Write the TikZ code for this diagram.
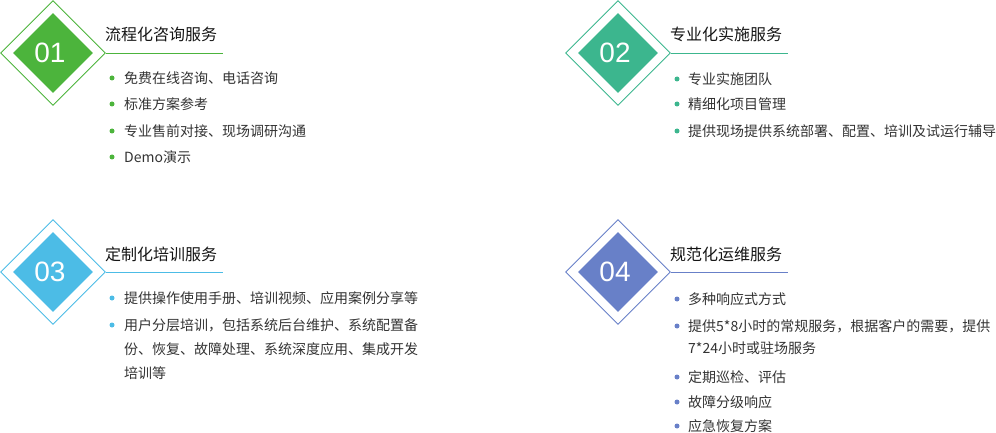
\documentclass[tikz,border=0pt]{standalone}
\usepackage{fontspec}
\setmainfont{Liberation Sans}
\newfontfamily\cjk{Noto Sans CJK SC}
\usetikzlibrary{shapes.geometric,positioning}
\definecolor{GreenA}{RGB}{76,180,60}
\definecolor{TealB}{RGB}{60,182,142}
\definecolor{BlueC}{RGB}{76,188,230}
\definecolor{BlueD}{RGB}{104,128,200}
\definecolor{TextGray}{RGB}{51,51,51}
\definecolor{TitleBlack}{RGB}{20,20,20}
\tikzset{
  outerdia/.style={diamond,draw=#1,line width=0.9pt,minimum size=105pt,inner sep=0pt},
  innerdia/.style={diamond,fill=#1,minimum size=80pt,inner sep=0pt},
  numtext/.style={text=white,inner sep=0pt,font=\fontsize{28pt}{28pt}\selectfont},
  titletext/.style={anchor=west,inner sep=0pt,text=TitleBlack,font=\cjk\fontsize{16pt}{16pt}\selectfont},
  itemtext/.style={anchor=west,inner sep=0pt,text=TextGray,align=left,font=\cjk\fontsize{14pt}{24pt}\selectfont},
  itemdot/.style={circle,fill=#1,inner sep=0pt,minimum size=5pt},
  underline/.style={draw=#1,line width=0.9pt}
}
\begin{document}
\begin{tikzpicture}[x=1pt,y=-1pt]
        \useasboundingbox (0,0) rectangle (996,433);
        % 01
        \node[outerdia=GreenA] (d1) at (53,53) {};
        \node[innerdia=GreenA] (f1) at (d1) {};
        \node[numtext] (n1) at ([xshift=-3pt]d1.center) {01};
        \node[titletext] (t1) at (105,34) {流程化咨询服务};
        \coordinate (e1) at (223,53);
        \draw[underline=GreenA] (d1.east) -- (e1);
        \foreach \y/\txt [count=\k] in {78/免费在线咨询、电话咨询, 104/标准方案参考, 131/专业售前对接、现场调研沟通, 157/Demo演示}
        {
            \node[itemdot=GreenA] (pa\k) at (112,\y) {};
            \node[itemtext] (ia\k) at (124,\y) {\txt};
        }
        % 02
        \node[outerdia=TealB] (d2) at (618,53) {};
        \node[innerdia=TealB] (f2) at (d2) {};
        \node[numtext] (n2) at ([xshift=-3pt]d2.center) {02};
        \node[titletext] (t2) at (670,34) {专业化实施服务};
        \coordinate (e2) at (788,53);
        \draw[underline=TealB] (d2.east) -- (e2);
        \foreach \y/\txt [count=\k] in {79/专业实施团队, 104/精细化项目管理, 131/提供现场提供系统部署、配置、培训及试运行辅导}
        {
            \node[itemdot=TealB] (pb\k) at (677,\y) {};
            \node[itemtext] (ib\k) at (688,\y) {\txt};
        }
        % 03
        \node[outerdia=BlueC] (d3) at (53,272) {};
        \node[innerdia=BlueC] (f3) at (d3) {};
        \node[numtext] (n3) at ([xshift=-3pt]d3.center) {03};
        \node[titletext] (t3) at (105,254) {定制化培训服务};
        \coordinate (e3) at (223,272);
        \draw[underline=BlueC] (d3.east) -- (e3);
        \node[itemdot=BlueC] (pc1) at (112,298) {};
        \node[itemtext] (ic1) at (124,298) {提供操作使用手册、培训视频、应用案例分享等};
        \node[itemdot=BlueC] (pc2) at (112,325) {};
        \node[itemtext] (ic2) at (124,349) {用户分层培训，包括系统后台维护、系统配置备\\份、恢复、故障处理、系统深度应用、集成开发\\培训等};
        % 04
        \node[outerdia=BlueD] (d4) at (618,272) {};
        \node[innerdia=BlueD] (f4) at (d4) {};
        \node[numtext] (n4) at ([xshift=-3pt]d4.center) {04};
        \node[titletext] (t4) at (670,254) {规范化运维服务};
        \coordinate (e4) at (788,272);
        \draw[underline=BlueD] (d4.east) -- (e4);
        \node[itemdot=BlueD] (pd1) at (677,299) {};
        \node[itemtext] (id1) at (688,299) {多种响应式方式};
        \node[itemdot=BlueD] (pd2) at (677,326) {};
        \node[itemtext,font=\cjk\fontsize{14pt}{22pt}\selectfont] (id2) at (688,337) {提供5*8小时的常规服务，根据客户的需要，提供\\7*24小时或驻场服务};
        \foreach \y/\txt [count=\k from 3] in {377/定期巡检、评估, 402/故障分级响应, 426/应急恢复方案}
        {
            \node[itemdot=BlueD] (pd\k) at (677,\y) {};
            \node[itemtext] (id\k) at (688,\y) {\txt};
        }
\end{tikzpicture}
\end{document}
